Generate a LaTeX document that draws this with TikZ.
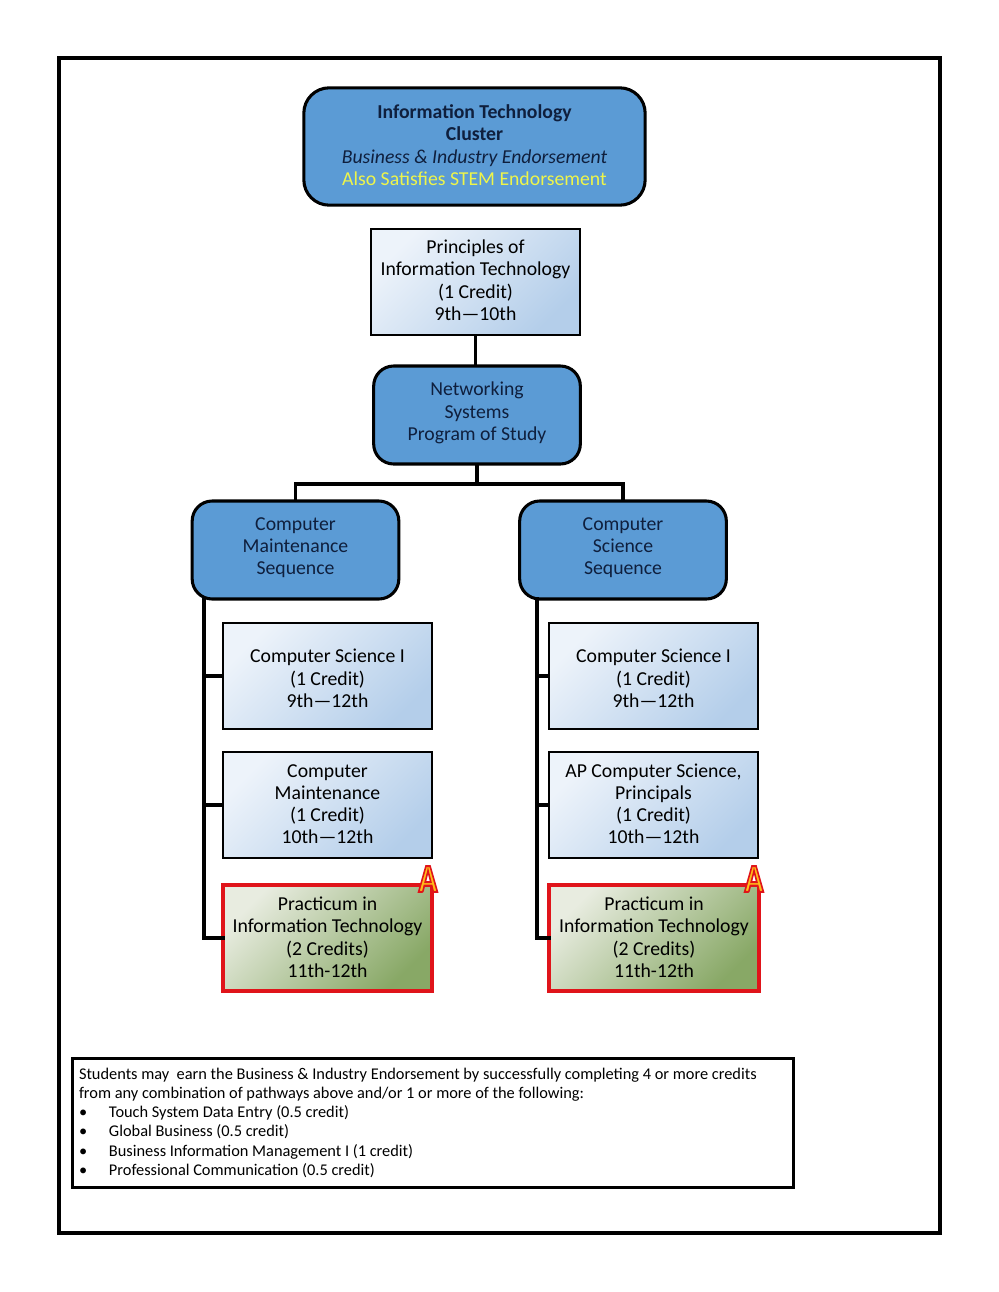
\documentclass[tikz,border=0pt]{standalone}
\usepackage{fontspec}
\setmainfont{Carlito}
\usetikzlibrary{calc}
\definecolor{blueA}{HTML}{5B9BD5}
\definecolor{navy}{HTML}{0F1F3D}
\definecolor{ylw}{HTML}{EEF54A}
\definecolor{redB}{HTML}{E0141A}
\definecolor{gradA}{HTML}{EDF3FA}
\definecolor{gradB}{HTML}{B4CEEA}
\definecolor{pracA}{HTML}{E8ECE0}
\definecolor{pracB}{HTML}{88A866}
\newcommand{\bulletline}[1]{\makebox[22.5pt][l]{•}#1}
\newcommand{\badgeA}{\scalebox{0.78}[1]{\special{pdf:code q 2 Tr 1.5 w 0.88 0.08 0.1 RG 1 0.74 0.1 rg}A\special{pdf:code Q}}}
% #1: upward shift of the text block in reference pixels
\newcommand{\tx}[2]{\raisebox{\dimexpr #1pt*3/4-5.95pt\relax}[0pt][0pt]{\begin{tabular}{@{}c@{}}#2\end{tabular}}}
\tikzset{
  x=0.75pt,y=-0.75pt,
  every node/.style={font=\fontsize{14.8}{16.7}\selectfont,align=center,inner sep=0pt,outer sep=0pt},
  bluebox/.style={draw=black,line width=2.3pt,fill=blueA,rounded corners=15pt,text=navy},
  gradbox/.style={draw=black,line width=1.6pt,top color=gradA,bottom color=gradB,shading angle=45,text=black},
  pracbox/.style={draw=redB,line width=3pt,top color=pracA,bottom color=pracB,shading angle=45,text=black},
  link/.style={draw=black,line width=2.6pt},
  badge/.style={font=\fontsize{30}{30}\bfseries\selectfont},
}
\begin{document}
\begin{tikzpicture}
\useasboundingbox (0,0) rectangle (999,1292);
\fill[white] (0,0) rectangle (999,1292);
\node[draw=black,line width=3pt,minimum width=661pt,minimum height=881pt] (frame) at (499.5,645.5) {};

\node[bluebox,rounded corners=19pt,minimum width=256pt,minimum height=88pt] (top) at (474.5,146.5)
 {\tx{2}{\textbf{Information Technology}\\\textbf{Cluster}\\\textit{Business \& Industry Endorsement}\\\textcolor{ylw}{Also Satisfies STEM Endorsement}}};
\node[gradbox,minimum width=157pt,minimum height=79.5pt] (princ) at (475.5,282)
 {\tx{2.5}{Principles of\\Information Technology\\(1 Credit)\\9th—10th}};
\node[bluebox,minimum width=155pt,minimum height=73.5pt] (net) at (477,415)
 {\tx{4.5}{Networking\\Systems\\Program of Study}};
\node[bluebox,minimum width=155pt,minimum height=73.5pt] (cmseq) at (295.5,550)
 {\tx{5}{Computer\\Maintenance\\Sequence}};
\node[bluebox,minimum width=155pt,minimum height=73.5pt] (csseq) at (623,550)
 {\tx{5}{Computer\\Science\\Sequence}};

\node[gradbox,minimum width=157pt,minimum height=79.5pt] (lone) at (327.5,676)
 {\tx{-1.5}{Computer Science I\\(1 Credit)\\9th—12th}};
\node[gradbox,minimum width=157pt,minimum height=79.5pt] (ltwo) at (327.5,805)
 {\tx{2}{Computer\\Maintenance\\(1 Credit)\\10th—12th}};
\node[pracbox,minimum width=157pt,minimum height=79.5pt] (lthree) at (327.5,938)
 {\tx{1.5}{Practicum in\\Information Technology\\(2 Credits)\\11th-12th}};

\node[gradbox,minimum width=157pt,minimum height=79.5pt] (rone) at (653.5,676)
 {\tx{-1.5}{Computer Science I\\(1 Credit)\\9th—12th}};
\node[gradbox,minimum width=157pt,minimum height=79.5pt] (rtwo) at (653.5,805)
 {\tx{2}{AP Computer Science,\\Principals\\(1 Credit)\\10th—12th}};
\node[pracbox,minimum width=157pt,minimum height=79.5pt] (rthree) at (654,938)
 {\tx{1.5}{Practicum in\\Information Technology\\(2 Credits)\\11th-12th}};

\node[badge] (al) at (428,879) {\badgeA};
\node[badge] (ar) at (754,879) {\badgeA};

\coordinate (bus) at (477,484);
\coordinate (spl) at (204,599);
\coordinate (spr) at (537,599);
\draw[link] (princ.south) -- (princ.south |- net.north);
\draw[link] (net.south) -- (bus);
\draw[link] (cmseq.north) |- (bus) -| (csseq.north);
\draw[link,line cap=rect] (spl) -- (spl |- lthree.west) -- (lthree.west);
\draw[link] (spl |- lone.west) -- (lone.west);
\draw[link] (spl |- ltwo.west) -- (ltwo.west);
\draw[link,line cap=rect] (spr) -- (spr |- rthree.west) -- (rthree.west);
\draw[link] (spr |- rone.west) -- (rone.west);
\draw[link] (spr |- rtwo.west) -- (rtwo.west);

\node[draw=black,line width=2.3pt,minimum width=540.5pt,minimum height=97pt] (note) at (433,1123) {};
\node[align=left,anchor=north west,font=\fontsize{12.27}{14.4}\selectfont] (notetext) at (79,1068)
 {Students may\ \ earn the Business \& Industry Endorsement by successfully completing 4 or more credits\\
  from any combination of pathways above and/or 1 or more of the following:\\
  \bulletline{Touch System Data Entry (0.5 credit)}\\
  \bulletline{Global Business (0.5 credit)}\\
  \bulletline{Business Information Management I (1 credit)}\\
  \bulletline{Professional Communication (0.5 credit)}};
\end{tikzpicture}
\end{document}
